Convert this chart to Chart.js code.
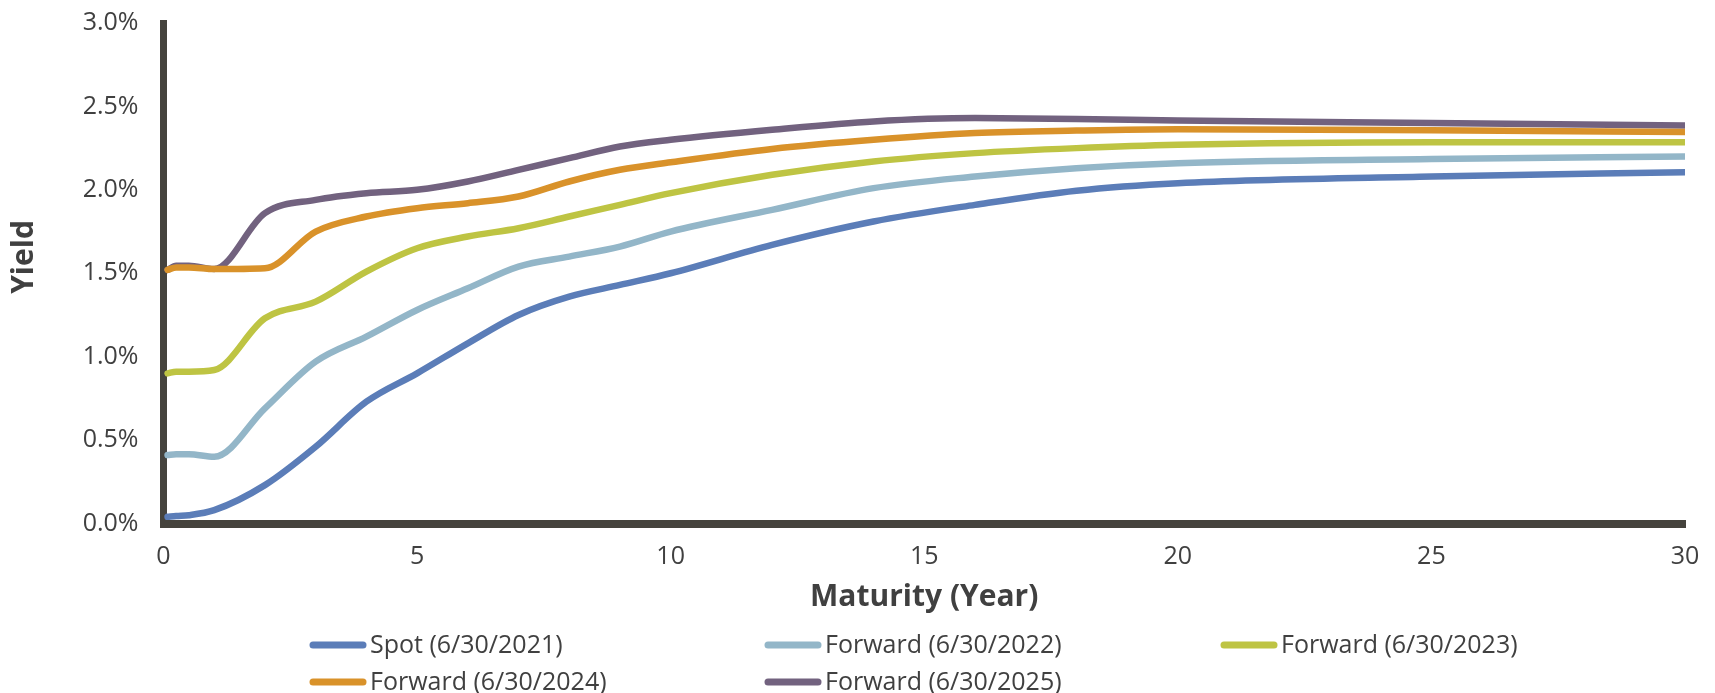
<!DOCTYPE html>
<html>
<head>
<meta charset="utf-8">
<script src="https://cdn.jsdelivr.net/npm/chart.js@4.4.0/dist/chart.umd.min.js"></script>
<style>
  html, body { margin: 0; padding: 0; background: #ffffff; }
  #wrap { width: 1715px; height: 693px; position: relative; }
</style>
</head>
<body>
<div id="wrap"><canvas id="curves"></canvas></div>
<script>
// Maturities in years
const maturities = [0.08, 0.25, 0.5, 1, 2, 3, 4, 5, 6, 7, 8, 9, 10, 12, 14, 16, 18, 20, 25, 30];

// Yields in percent
const spot2021    = [0.04, 0.045, 0.05, 0.08, 0.23, 0.46, 0.73, 0.90, 1.08, 1.25, 1.36, 1.43, 1.50, 1.67, 1.81, 1.91, 1.995, 2.04, 2.08, 2.105];
const forward2022 = [0.41, 0.415, 0.415, 0.40, 0.69, 0.97, 1.12, 1.28, 1.41, 1.54, 1.60, 1.66, 1.75, 1.88, 2.01, 2.08, 2.13, 2.16, 2.185, 2.20];
const forward2023 = [0.90, 0.91, 0.91, 0.92, 1.23, 1.33, 1.51, 1.65, 1.72, 1.77, 1.84, 1.91, 1.98, 2.09, 2.17, 2.22, 2.25, 2.27, 2.285, 2.285];
const forward2024 = [1.52, 1.535, 1.535, 1.525, 1.53, 1.75, 1.84, 1.89, 1.92, 1.96, 2.05, 2.12, 2.165, 2.245, 2.30, 2.34, 2.355, 2.363, 2.357, 2.347];
const forward2025 = [1.52, 1.545, 1.545, 1.525, 1.86, 1.94, 1.98, 2.00, 2.05, 2.12, 2.19, 2.26, 2.30, 2.36, 2.41, 2.43, 2.425, 2.415, 2.40, 2.385];

const seriesNames = ['Spot (6/30/2021)', 'Forward (6/30/2022)', 'Forward (6/30/2023)', 'Forward (6/30/2024)', 'Forward (6/30/2025)'];
const seriesValues = [spot2021, forward2022, forward2023, forward2024, forward2025];
const seriesColors = ['#5B7DB8', '#93B6C8', '#BEC443', '#D9922A', '#72627F'];

const xTickValues = [0, 5, 10, 15, 20, 25, 30];
const yTickValues = [0, 0.5, 1.0, 1.5, 2.0, 2.5, 3.0];

const xTitle = 'Maturity (Year)';
const yTitle = 'Yield';

const TEXT = '#404040';
const AXIS = '#45433D';
const FONT = '"Open Sans", "Liberation Sans", sans-serif';

const datasets = seriesNames.map((name, i) => ({
  label: name,
  data: maturities.map((m, j) => ({ x: m, y: seriesValues[i][j] })),
  borderColor: seriesColors[i],
  backgroundColor: seriesColors[i],
  borderWidth: 6.5,
  pointRadius: 0,
  pointHoverRadius: 0,
  fill: false,
  cubicInterpolationMode: 'monotone',
  borderCapStyle: 'round',
  borderJoinStyle: 'round'
}));

// Legend laid out in a three-column grid below the axis title
const gridLegend = {
  id: 'gridLegend',
  afterDraw(chart) {
    const ctx = chart.ctx;
    const cols = [310, 765, 1221];
    const rows = [645, 682];
    const lineLen = 56;
    ctx.save();
    ctx.font = '25px ' + FONT;
    ctx.textBaseline = 'middle';
    ctx.textAlign = 'left';
    chart.data.datasets.forEach((ds, i) => {
      const x = cols[i % 3];
      const y = rows[Math.floor(i / 3)];
      ctx.strokeStyle = ds.borderColor;
      ctx.lineWidth = 7;
      ctx.lineCap = 'round';
      ctx.beginPath();
      ctx.moveTo(x + 3, y);
      ctx.lineTo(x + lineLen - 3, y);
      ctx.stroke();
      ctx.fillStyle = TEXT;
      ctx.fillText(ds.label, x + lineLen + 4, y + 1);
    });
    ctx.restore();
  }
};

// Rotated y-axis title
const yAxisTitle = {
  id: 'yAxisTitle',
  afterDraw(chart) {
    const ctx = chart.ctx;
    ctx.save();
    ctx.translate(24, 257);
    ctx.rotate(-Math.PI / 2);
    ctx.font = 'bold 30px ' + FONT;
    ctx.fillStyle = TEXT;
    ctx.textAlign = 'center';
    ctx.textBaseline = 'middle';
    ctx.fillText(yTitle, 0, 0);
    ctx.restore();
  }
};

// Keep the plot area edges where the layout padding puts them
function clearEdgePadding(scale) {
  scale.paddingTop = 0;
  scale.paddingBottom = 0;
  scale.paddingLeft = 0;
  scale.paddingRight = 0;
}

new Chart(document.getElementById('curves'), {
  type: 'line',
  data: { datasets },
  plugins: [gridLegend, yAxisTitle],
  options: {
    responsive: true,
    maintainAspectRatio: false,
    animation: false,
    events: [],
    layout: { padding: { top: 23, right: 30, bottom: 69.5, left: 0 } },
    plugins: {
      legend: { display: false },
      tooltip: { enabled: false },
      title: { display: false }
    },
    scales: {
      x: {
        type: 'linear',
        min: 0,
        max: 30,
        afterBuildTicks: (scale) => { scale.ticks = xTickValues.map(v => ({ value: v })); },
        afterFit: (scale) => { scale.height = 100; clearEdgePadding(scale); },
        grid: { display: false, drawTicks: false },
        border: { display: true, color: AXIS, width: 8 },
        ticks: {
          padding: 18,
          color: TEXT,
          font: { family: FONT, size: 25 },
          maxRotation: 0,
          callback: (v) => String(v)
        },
        title: {
          display: true,
          text: xTitle,
          color: TEXT,
          font: { family: FONT, size: 30, weight: 'bold' },
          padding: { top: 0, bottom: 8 }
        }
      },
      y: {
        type: 'linear',
        min: 0,
        max: 3,
        afterBuildTicks: (scale) => { scale.ticks = yTickValues.map(v => ({ value: v })); },
        afterFit: (scale) => { scale.width = 163.5; clearEdgePadding(scale); },
        grid: { display: false, drawTicks: false },
        border: { display: true, color: AXIS, width: 7 },
        ticks: {
          padding: 25,
          color: TEXT,
          font: { family: FONT, size: 25 },
          callback: (v) => Number(v).toFixed(1) + '%'
        }
      }
    }
  }
});
</script>
</body>
</html>
